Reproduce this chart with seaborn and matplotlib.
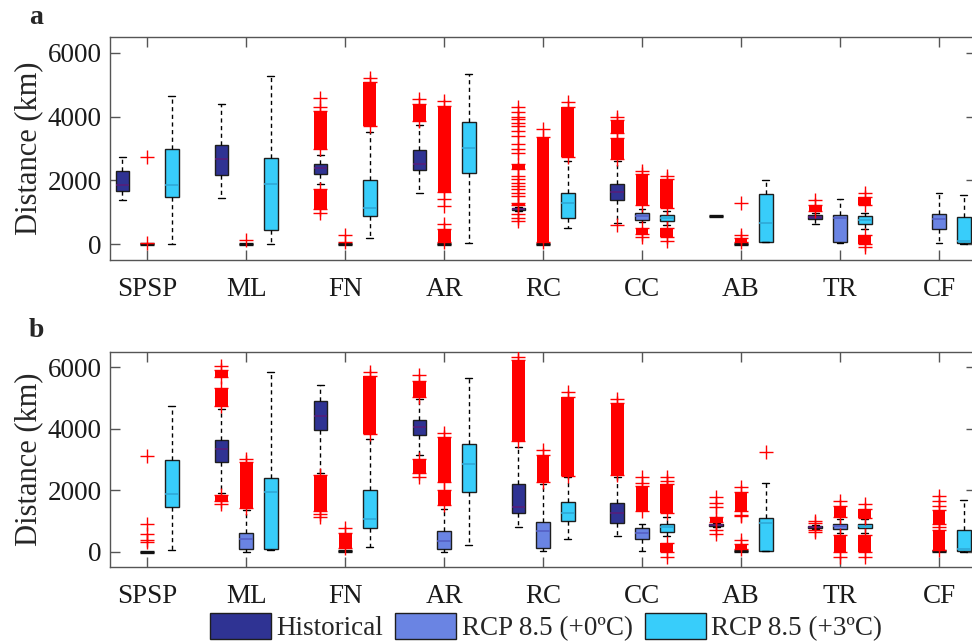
import numpy as np
import pandas as pd
import matplotlib
matplotlib.use("Agg")
import matplotlib.pyplot as plt
import seaborn as sns
from matplotlib.patches import Patch

sites = ["SPSP", "ML", "FN", "AR", "RC", "CC", "AB", "TR", "CF"]
scenarios = ["Historical", "RCP 8.5 (+0ºC)", "RCP 8.5 (+3ºC)"]
y_ticks = [0, 2000, 4000, 6000]

# box statistics per site: (lower whisker, Q1, median, Q3, upper whisker)
a_hist = [(1390, 1670, 1850, 2300, 2740), (1450, 2170, 2680, 3100, 4390),
          (1880, 2200, 2400, 2510, 2800), (1600, 2330, 2500, 2950, 3750),
          (1040, 1060, 1095, 1130, 1150), (650, 1380, 1620, 1900, 2610),
          (885, 885, 885, 885, 885), (630, 780, 855, 920, 990), None]
a_rcp0 = [(0, 0, 0, 0, 0), (0, 0, 0, 0, 0), (0, 0, 0, 0, 0), (0, 0, 0, 0, 0),
          (0, 0, 0, 0, 0), (690, 760, 866, 970, 1100), (0, 0, 0, 0, 0),
          (20, 73, 814, 907, 1408), (30, 470, 800, 940, 1617)]
a_rcp3 = [(0, 1490, 1846, 2993, 4640), (0, 440, 1877, 2700, 5267),
          (177, 887, 1126, 2013, 3510), (30, 2242, 3004, 3828, 5350),
          (520, 834, 1283, 1617, 2600), (600, 730, 814, 907, 1050),
          (50, 73, 657, 1565, 2003), (470, 626, 751, 866, 990),
          (0, 21, 94, 855, 1544)]

b_hist = [None, (1900, 2913, 3326, 3641, 4650), (2550, 3946, 4413, 4891, 5435),
          (3130, 3783, 4044, 4272, 4980), (815, 1250, 1457, 2207, 3400),
          (500, 935, 1250, 1576, 2420), (800, 820, 860, 900, 940),
          (740, 770, 790, 830, 870), None]
b_rcp0 = [(0, 0, 0, 0, 0), (0, 87, 413, 609, 1350), (30, 30, 30, 30, 30),
          (0, 87, 337, 663, 1400), (10, 120, 685, 978, 2200),
          (10, 413, 608, 772, 902), (30, 30, 30, 30, 30),
          (600, 750, 822, 902, 1050), (30, 30, 30, 30, 30)]
b_rcp3 = [(65, 1446, 1880, 2968, 4739), (65, 87, 1935, 2413, 5848),
          (152, 783, 1065, 2011, 3674), (217, 1935, 2848, 3500, 5663),
          (413, 1011, 1250, 1608, 2423), (522, 641, 793, 902, 1119),
          (10, 33, 923, 1099, 2240), (600, 772, 837, 902, 1050),
          (0, 33, 87, 717, 1685)]

# outliers: single values or (low, high) ranges of densely packed outliers
a_hist_out = [[], [], [(2973, 4172), 4297, 4589, (1095, 1742), 990],
              [(3859, 4381), 4537],
              [4308, 4141, 3995, 3911, 3807, 3703, 3546, 3390, 3129, 2993, 2847,
               (2347, 2503), 2138, 2034, 1930, 1825, 1721, 1617, 1512,
               (1220, 1304), 939, 834, 730],
              [(3473, 3890), 3995, (2660, 3338), 600], [], [(1043, 1241), 1387], []]
a_rcp0_out = [[2740, 40], [130], [300, 80],
              [(1620, 4320), 4480, 1400, 1200, (60, 470), 620],
              [(60, 3370), 3600], [(1230, 2190), 2300, (310, 490), 210],
              [1300, (50, 180), 300], [], []]
a_rcp3_out = [[], [], [(3690, 5070), 5200], [], [(2743, 4308), 4454],
              [(1126, 2055), 2140, (209, 500), 104], [],
              [(1231, 1481), 1617, (0, 282), -104], []]

b_hist_out = [[], [(5685, 5900), 6050, (4728, 5326), (1650, 1830), 1560],
              [(1337, 2500), 1228, 1120], [(5050, 5550), 5750, (2550, 3020), 2420],
              [(3600, 6230), 6330], [(2510, 4835), 4978],
              [1770, 1580, 1450, (960, 1120), 710, 580], [1000, 940, 690, 640], []]
b_rcp0_out = [[3110, 900, 590, 380, 320], [(1413, 2913), 3000], [(109, 609), 760],
              [(1522, 2011), (2283, 3728), 3870], [(2261, 3152), 3294],
              [(1315, 2130), 2250, 2420],
              [(1337, 1956), 2119, 1206, 1150, (88, 251), 381],
              [(1119, 1500), 1640, (0, 550), -185],
              [1800, 1660, 1500, (900, 1340), 790, (40, 700)]]
b_rcp3_out = [[], [], [(3837, 5707), 5848], [], [(2478, 5031), 5194],
              [(1261, 2206), 2300, 2423, (0, 270), -163], [3237],
              [(1086, 1392), 1555, (0, 550), -163], []]

box_colors = ["#2f3393", "#6a84e3", "#38cdfa"]
median_colors = ["#561e7a", "#5560c6", "#2fa8d6"]

sns.set_theme(style="ticks")
plt.rcParams["font.family"] = ["Liberation Serif", "DejaVu Serif"]
plt.rcParams["axes.edgecolor"] = "#555555"
plt.rcParams["axes.linewidth"] = 1.0


def long_frame(boxes_by_scen):
    rows = []
    for scen, boxes in zip(scenarios, boxes_by_scen):
        for site, b in zip(sites, boxes):
            if b is None:
                continue
            for v in b:
                rows.append((site, scen, v))
    return pd.DataFrame(rows, columns=["site", "scenario", "km"])


WIDTH = 0.75
GAP = 0.45
offsets = [(-1 + h) * WIDTH / 3 for h in range(3)]
blk_w = 0.13


def draw_outliers(ax, outs_by_scen):
    for h, outs in enumerate(outs_by_scen):
        for i, olist in enumerate(outs):
            x = i + offsets[h]
            for o in olist:
                if isinstance(o, tuple):
                    lo, hi = o
                    ax.bar(x, hi - lo, bottom=lo, width=blk_w, color="#ff0000",
                           linewidth=0, zorder=4)
                    ax.plot([x, x], [lo, hi], ls="none", marker="+", ms=9.5,
                            mew=1.0, color="#ff0000", zorder=5)
                else:
                    ax.plot([x], [o], ls="none", marker="+", ms=9.5, mew=1.0,
                            color="#ff0000", zorder=5)


def panel(ax, boxes, outs):
    df = long_frame(boxes)
    sns.boxplot(data=df, x="site", y="km", hue="scenario", order=sites,
                hue_order=scenarios, palette=box_colors, whis=(0, 100),
                showfliers=False, width=WIDTH, gap=GAP, linecolor="#1e1e1e",
                linewidth=1.0, legend=False, ax=ax, saturation=1,
                whiskerprops=dict(linestyle=(0, (3, 2.5)), color="black"),
                capprops=dict(color="black"))
    for cont, col, blist in zip(ax.containers, median_colors, boxes):
        present = [b for b in blist if b is not None]
        for m, b in zip(cont.medians, present):
            if b[1] == b[3]:
                m.set_color("#111111")
                m.set_linewidth(2.4)
            else:
                m.set_color(col)
                m.set_linewidth(1.2)
    draw_outliers(ax, outs)
    ax.set_xlim(-0.375, 8.375)
    ax.set_ylim(-500, 6500)
    ax.set_yticks(y_ticks)
    ax.set_yticklabels([str(t) for t in y_ticks])
    ax.set_xlabel("")
    ax.set_ylabel("Distance (km)", fontsize=22, labelpad=3)
    ax.tick_params(direction="in", top=True, right=True, length=7, width=1.0,
                   color="#555555", labelsize=19.5, labelcolor="#1a1a1a")
    ax.tick_params(axis="x", pad=12)
    ax.tick_params(axis="y", pad=6)
    for s in ax.spines.values():
        s.set_visible(True)


fig = plt.figure(figsize=(9.72, 6.43), dpi=100)
ax1 = fig.add_axes([0.1132, 0.5956, 0.891, 0.347])
ax2 = fig.add_axes([0.1132, 0.1182, 0.891, 0.3344])
panel(ax1, [a_hist, a_rcp0, a_rcp3], [a_hist_out, a_rcp0_out, a_rcp3_out])
panel(ax2, [b_hist, b_rcp0, b_rcp3], [b_hist_out, b_rcp0_out, b_rcp3_out])

fig.text(0.0375, 1 - 24 / 643, "a", fontsize=20, fontweight="bold", ha="center",
         va="baseline")
fig.text(0.0375, 1 - 337 / 643, "b", fontsize=20, fontweight="bold", ha="center",
         va="baseline")

handles = [Patch(facecolor=c, edgecolor="#1e1e1e", linewidth=1.0) for c in box_colors]
fig.legend(handles, scenarios, loc="center", bbox_to_anchor=(0.562, 1 - 627 / 643),
           ncol=3, frameon=False, fontsize=19.5, handlelength=2.25, handleheight=1.1,
           handletextpad=0.2, columnspacing=0.45, borderpad=0.1)

fig.savefig("out.png", dpi=100)
